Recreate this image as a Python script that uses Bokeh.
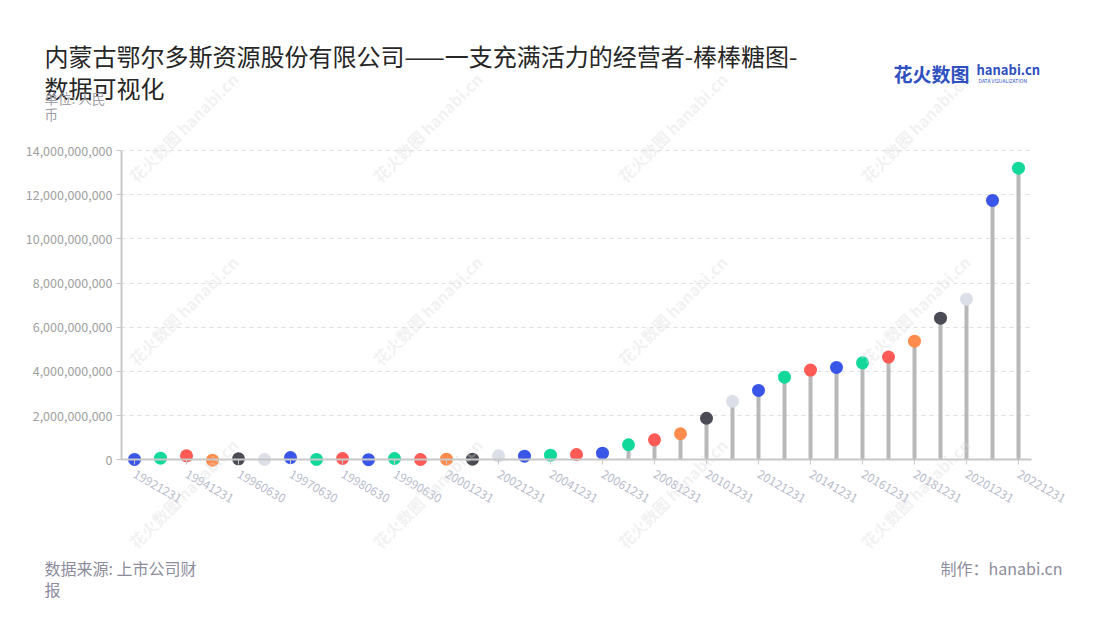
import math
from bokeh.plotting import figure
from bokeh.models import Range1d, FixedTicker, NumeralTickFormatter, Label, ColumnDataSource
from bokeh.embed import file_html
from bokeh.resources import INLINE

# ---------------- data ----------------
dates = ["19921231", "19931231", "19941231", "19951231", "19960630", "19961231",
         "19970630", "19971231", "19980630", "19981231", "19990630", "19991231",
         "20001231", "20011231", "20021231", "20031231", "20041231", "20051231",
         "20061231", "20071231", "20081231", "20091231", "20101231", "20111231",
         "20121231", "20131231", "20141231", "20151231", "20161231", "20171231",
         "20181231", "20191231", "20201231", "20211231", "20221231"]
values = [15e6, 72e6, 180e6, -15e6, 45e6, 15e6,
          100e6, 15e6, 60e6, 5e6, 60e6, 15e6,
          30e6, 30e6, 180e6, 165e6, 210e6, 240e6,
          300e6, 680e6, 905e6, 1180e6, 1880e6, 2650e6,
          3140e6, 3740e6, 4060e6, 4180e6, 4390e6, 4650e6,
          5370e6, 6410e6, 7270e6, 11740e6, 13200e6]
palette = ["#3a56e8", "#12d99a", "#ff5a55", "#ff8c4c", "#4b4b55", "#dcdfe8",
           "#3a56e8", "#12d99a", "#ff5a55"]
y_ticks = [0, 2e9, 4e9, 6e9, 8e9, 10e9, 12e9, 14e9]
x_label_every = 2

title_line1 = "内蒙古鄂尔多斯资源股份有限公司——一支充满活力的经营者-棒棒糖图-"
title_line2 = "数据可视化"
unit_line1 = "单位: 人民"
unit_line2 = "币"
source_line1 = "数据来源: 上市公司财"
source_line2 = "报"
credit = "制作：hanabi.cn"
watermark = "花火数图 hanabi.cn"

FONT = "Noto Sans CJK SC"

# ---------------- layout (pixels) ----------------
W, H = 1100, 620
X0_PX, DX_PX = 134.0, 26.0          # centre of first category, category step
Y0_PX, YTOP_PX = 459.3, 150.0       # pixel of value 0 and of the top tick
Y_TOP_VAL = y_ticks[-1]
ppu = (Y0_PX - YTOP_PX) / Y_TOP_VAL  # pixels per unit

x_lo = (0 - X0_PX) / DX_PX
x_hi = (W - X0_PX) / DX_PX
y_hi = Y0_PX / ppu
y_lo = -(H - Y0_PX) / ppu

n = len(dates)
p = figure(width=W, height=H, output_backend="svg", toolbar_location=None,
           x_range=Range1d(x_lo, x_hi), y_range=Range1d(y_lo, y_hi),
           min_border=0, min_border_left=0, min_border_right=0,
           min_border_top=0, min_border_bottom=0)
p.outline_line_color = None
p.background_fill_color = "white"
p.border_fill_color = "white"

src = ColumnDataSource(dict(
    x=list(range(n)),
    base=[0] * n,
    value=values,
    color=[palette[i % len(palette)] for i in range(n)],
))

# axes (drawn inside the frame at fixed locations)
xa = p.xaxis[0]
xa.fixed_location = 0
xa.bounds = (-0.5, n - 0.5)
xa.ticker = FixedTicker(ticks=list(range(0, n, x_label_every)))
xa.major_label_overrides = {i: dates[i] for i in range(0, n, x_label_every)}
xa.major_label_orientation = -math.pi / 6
xa.major_label_text_font = FONT
xa.major_label_text_font_size = "12px"
xa.major_label_text_color = "#b8bccc"
xa.major_label_standoff = 8
xa.axis_line_color = "#c8c8c8"
xa.axis_line_width = 2
xa.major_tick_line_color = "#c8c8c8"
xa.major_tick_line_width = 1
xa.major_tick_in = 0
xa.major_tick_out = 5
xa.minor_tick_line_color = None

ya = p.yaxis[0]
ya.fixed_location = -0.5
ya.bounds = (0, Y_TOP_VAL)
ya.ticker = FixedTicker(ticks=y_ticks)
ya.formatter = NumeralTickFormatter(format="0,0")
ya.major_label_text_font = FONT
ya.major_label_text_font_size = "12.5px"
ya.major_label_text_color = "#a0a0a0"
ya.major_label_standoff = 4
ya.axis_line_color = "#c8c8c8"
ya.axis_line_width = 2
ya.major_tick_line_color = "#c8c8c8"
ya.major_tick_in = 0
ya.major_tick_out = 5
ya.minor_tick_line_color = None

p.xgrid.grid_line_color = None
p.ygrid.ticker = FixedTicker(ticks=y_ticks[1:])
p.ygrid.cross_bounds = (-0.5, n - 0.5)
p.ygrid.grid_line_color = "#e0e0e0"
p.ygrid.grid_line_dash = "4 4"
p.ygrid.grid_line_width = 1

p.segment(x0="x", y0="base", x1="x", y1="value", source=src,
          line_color="#b8b8b8", line_width=4)
p.scatter(x="x", y="value", source=src, size=13, fill_color="color", line_color=None)


def add_label(text, px, py, size, color, align="left", style="normal", angle=0.0, alpha=1.0):
    p.add_layout(Label(x=px, y=H - py, x_units="screen", y_units="screen",
                       text=text, text_font=FONT, text_font_size=size,
                       text_color=color, text_align=align, text_baseline="middle",
                       text_font_style=style, angle=angle, text_alpha=alpha))


# watermarks
for cx in (183, 427, 672, 915):
    for cy in (127, 310, 493):
        add_label(watermark, cx, cy, "16px", "#d9d9d9", align="center",
                  style="bold", angle=math.pi / 4, alpha=0.35)

# titles and notes
add_label(title_line1, 44, 55, "24px", "#262626")
add_label(title_line2, 44, 87, "24px", "#262626")
add_label(unit_line1, 44, 97, "13.5px", "#a0a0a8")
add_label(unit_line2, 44, 113, "13.5px", "#a0a0a8")
add_label(source_line1, 44, 567, "16px", "#8c8c9c")
add_label(source_line2, 44, 588, "16px", "#8c8c9c")
add_label(credit, 1062, 567, "16px", "#8c8c9c", align="right")

# logo
add_label("花火数图", 893, 73, "19px", "#2f50c0", style="bold")
add_label("hanabi.cn", 976, 69, "13px", "#2f50c0", style="bold")
add_label("DATA VISUALIZATION", 978, 80, "5px", "#2f50c0")

open("out.html", "w").write(file_html(p, INLINE))
